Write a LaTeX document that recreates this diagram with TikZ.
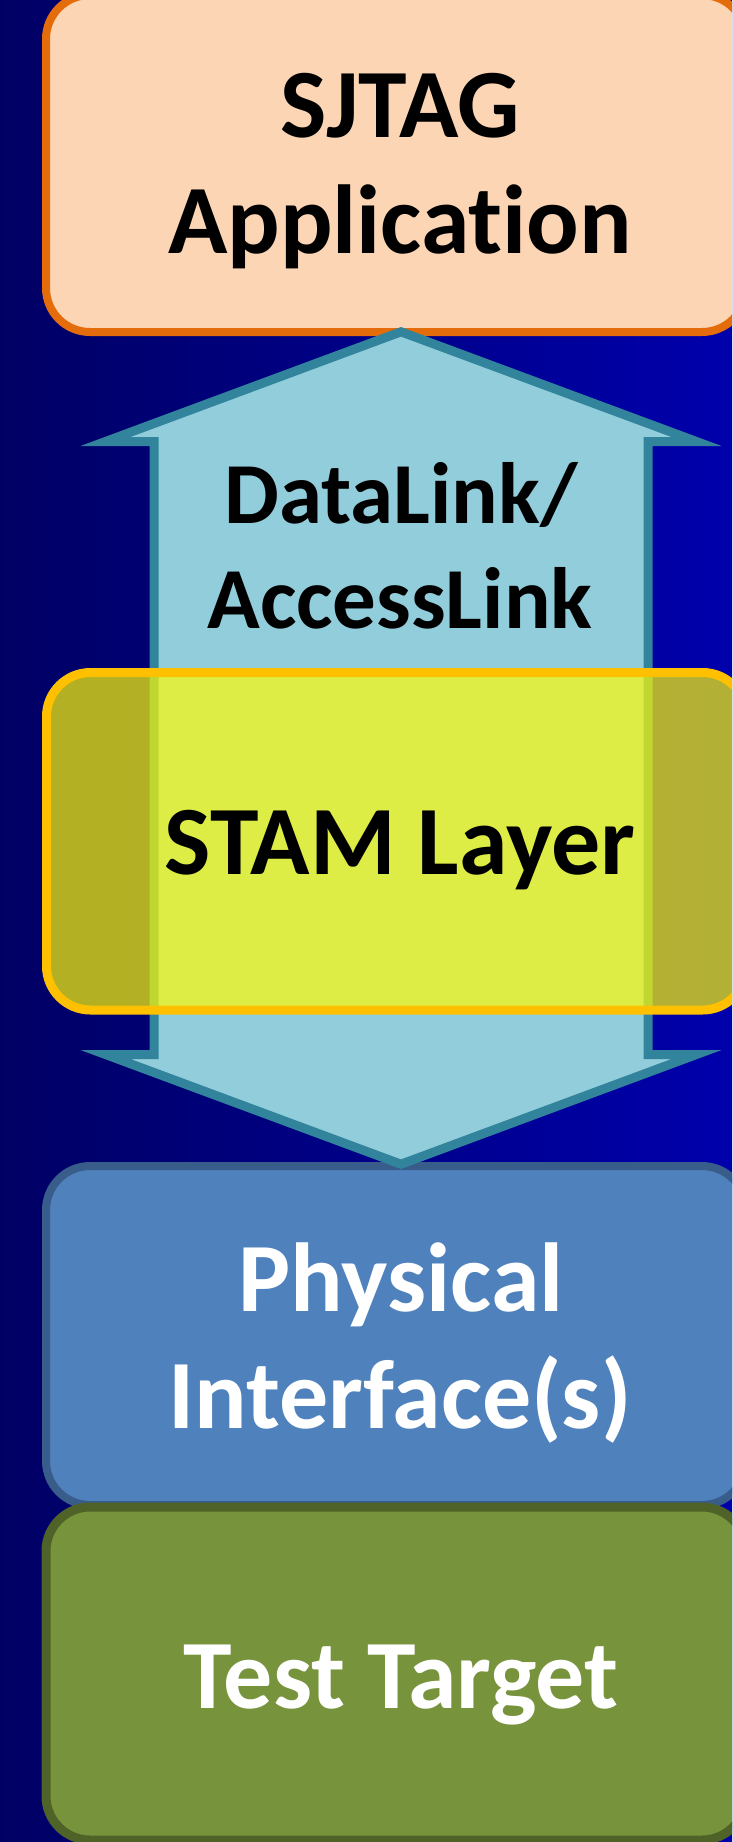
\documentclass[tikz,border=0pt]{standalone}
\usepackage{fontspec}
\setmainfont{Carlito}[Ligatures=NoCommon]
\definecolor{bgL}{RGB}{0,0,100}
\definecolor{bgR}{RGB}{0,0,172}
\definecolor{appFill}{RGB}{252,213,181}
\definecolor{appDraw}{RGB}{228,108,10}
\definecolor{arrFill}{RGB}{146,205,220}
\definecolor{arrDraw}{RGB}{49,132,155}
\definecolor{stamFill}{RGB}{255,251,5}
\definecolor{stamDraw}{RGB}{255,192,0}
\definecolor{phyFill}{RGB}{79,129,189}
\definecolor{phyDraw}{RGB}{56,93,138}
\definecolor{tgtFill}{RGB}{119,147,60}
\definecolor{tgtDraw}{RGB}{79,98,40}
\begin{document}
\begin{tikzpicture}[x=1pt,y=-1pt,
  layerbox/.style={rectangle, rounded corners=44pt, minimum width=700pt, inner sep=0pt, outer sep=0pt, line width=8pt},
  bigtxt/.style={anchor=base, inner sep=0pt, font=\fontsize{98}{116}\selectfont\bfseries},
  linktxt/.style={anchor=base, inner sep=0pt, font=\fontsize{87}{105}\selectfont\bfseries},
  blockarrow/.style={fill=arrFill, draw=arrDraw, line width=9pt, line join=miter}]
\useasboundingbox (0,0) rectangle (732,1842);
\clip (0,0) rectangle (732,1842);
\shade[left color=bgL,right color=bgR] (0,0) rectangle (732,1842);
% layer boxes
\node[layerbox, fill=appFill, draw=appDraw, minimum height=337pt] (app) at (396,163.5) {};
\node[layerbox, fill=phyFill, draw=phyDraw, minimum height=339pt] (phy) at (396,1335.5) {};
\node[layerbox, fill=tgtFill, draw=tgtDraw, minimum height=333pt, line width=9pt] (tgt) at (396,1673.5) {};
% double block arrow between application and physical interface
\coordinate (uptip) at (401,331.8);
\coordinate (dntip) at (401,1164.2);
\draw[blockarrow] (uptip) -- (696.5,441.5) -- (648,441.5) -- (648,1054.5) -- (696.5,1054.5)
  -- (dntip) -- (105.5,1054.5) -- (154,1054.5) -- (154,441.5) -- (105.5,441.5) -- cycle;
% STAM layer (semi-transparent)
\node[layerbox, fill=stamFill, fill opacity=0.7, draw=stamDraw, minimum height=337.5pt, line width=9pt] (stam) at (396.5,841.25) {};
% texts
\node[bigtxt] (t1) at (400,137) {SJTAG};
\node[bigtxt] (t2) at (400,253) {Application};
\node[linktxt] (t3) at (401,523) {DataLink/};
\node[linktxt] (t4) at (400,628) {AccessLink};
\node[bigtxt] (t5) at (400,874) {STAM Layer};
\node[bigtxt, text=white] (t6) at (401,1311) {Physical};
\node[bigtxt, text=white] (t7) at (400,1428) {Interface(s)};
\node[bigtxt, text=white] (t8) at (401,1708) {Test Target};
\end{tikzpicture}
\end{document}
